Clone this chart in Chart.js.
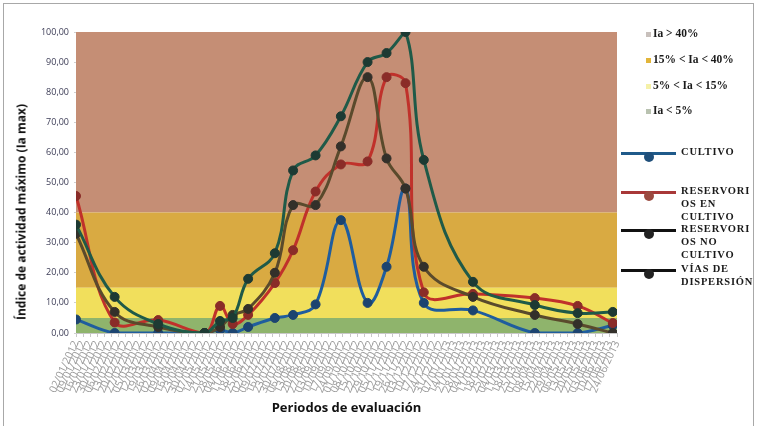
<!DOCTYPE html>
<html><head><meta charset="utf-8">
<script src="https://cdn.jsdelivr.net/npm/chart.js@4"></script>
<style>
html,body{margin:0;padding:0;background:#fff;}
#wrap{position:relative;width:760px;height:426px;overflow:hidden;}
#frame{position:absolute;left:3px;top:3px;width:751px;height:440px;border:1px solid #a8a8a8;box-sizing:border-box;}
#c{position:absolute;left:0;top:0;}
.lg{position:absolute;font-family:"Liberation Serif","DejaVu Serif",serif;font-weight:bold;color:#1a1a1a;white-space:nowrap;}
.band{font-size:11.5px;}
.ser{font-size:10.5px;letter-spacing:0.8px;line-height:12.8px;}
.sq{position:absolute;width:5px;height:5px;}
.ln{position:absolute;height:3px;}
.mk{position:absolute;width:10px;height:10px;border-radius:50%;}
#ytitle{position:absolute;left:21px;top:212px;transform:translate(-50%,-50%) rotate(-90deg);font-family:"Open Sans",sans-serif;font-weight:bold;font-size:12px;color:#111;white-space:nowrap;}
</style></head>
<body><div id="wrap">
<div id="frame"></div>
<canvas id="c" width="760" height="426"></canvas>
<div id="ytitle">Índice de actividad máximo (Ia max)</div>
<div id="legend"></div>
</div>
<script>
// ---- data ----
const dateLabels = ["02/01/2012","09/01/2012","16/01/2012","23/01/2012","30/01/2012","06/02/2012","13/02/2012","20/02/2012","27/02/2012","05/03/2012","12/03/2012","19/03/2012","26/03/2012","02/04/2012","09/04/2012","16/04/2012","23/04/2012","30/04/2012","07/05/2012","14/05/2012","21/05/2012","28/05/2012","04/06/2012","11/06/2012","18/06/2012","25/06/2012","02/07/2012","09/07/2012","16/07/2012","23/07/2012","30/07/2012","06/08/2012","13/08/2012","20/08/2012","27/08/2012","03/09/2012","10/09/2012","17/09/2012","24/09/2012","01/10/2012","08/10/2012","15/10/2012","22/10/2012","29/10/2012","05/11/2012","12/11/2012","19/11/2012","26/11/2012","03/12/2012","10/12/2012","17/12/2012","24/12/2012","31/12/2012","07/01/2013","14/01/2013","21/01/2013","28/01/2013","04/02/2013","11/02/2013","18/02/2013","25/02/2013","04/03/2013","11/03/2013","18/03/2013","25/03/2013","01/04/2013","08/04/2013","15/04/2013","22/04/2013","29/04/2013","06/05/2013","13/05/2013","20/05/2013","27/05/2013","03/06/2013","10/06/2013","17/06/2013","24/06/2013"];
const samplePos = [0, 5.5, 11.7, 18.3, 20.5, 22.3, 24.5, 28.3, 30.9, 34.1, 37.7, 41.5, 44.2, 46.9, 49.5, 56.5, 65.3, 71.4, 76.4];
const cultivo        = [4.5, 0, 0, 0, 1, 0, 2, 5, 6, 9.5, 37.5, 10, 22, 48, 10, 7.5, 0, 0, 2.5];
const resEnCultivo   = [45.5, 3.5, 4.3, 0, 9, 3, 6, 16.6, 27.5, 47, 56, 57, 85, 83, 13.5, 13, 11.6, 9, 3.3];
const resNoCultivo   = [33, 7, 2, 0, 2, 6, 8, 20, 42.5, 42.5, 62, 85, 58, 48, 22, 12, 6, 3, 0];
const viasDispersion = [36, 12, 3, 0, 4, 5, 18, 26.5, 54, 59, 72, 90, 93, 100, 57.5, 17, 9.3, 6.6, 7];
const bandNames  = ["Ia < 5%", "5% < Ia < 15%", "15% < Ia < 40%", "Ia > 40%"];
const bandTops   = [5, 15, 40, 100];
const seriesNames = ["CULTIVO", "RESERVORIOS EN CULTIVO", "RESERVORIOS NO CULTIVO", "VÍAS DE DISPERSIÓN"];
const yTicks = [0,10,20,30,40,50,60,70,80,90,100];

// ---- styles ----
const bandColors = ["#8fb46c", "#f1df5c", "#d9aa42", "#c58e75"];
const bandLegendColors = ["#b9c2b0", "#f5f1a8", "#e2b53a", "#c8c0bc"];
const lineColors = ["#1f5d9e", "#c0312b", "#5a4a2c", "#1f5a48"];
const markColors = ["#1c4470", "#8a2c28", "#33302a", "#1d3a33"];
const legendLineColors = ["#1f5a8a", "#a83838", "#111", "#111"];
const legendMarkColors = ["#1f4f7a", "#9a4a40", "#222", "#222"];

const xMax = dateLabels.length - 1;
const datasets = [];
bandTops.forEach((t, i) => {
  datasets.push({
    label: bandNames[i],
    data: [{x: 0, y: t}, {x: xMax, y: t}],
    borderWidth: 0, pointRadius: 0, backgroundColor: bandColors[i],
    fill: i === 0 ? 'origin' : '-1', order: 10, tension: 0
  });
});
[cultivo, resEnCultivo, resNoCultivo, viasDispersion].forEach((arr, i) => {
  datasets.push({
    label: seriesNames[i],
    data: arr.map((v, k) => ({x: samplePos[k], y: v})),
    borderColor: lineColors[i], borderWidth: 3,
    pointRadius: 4.5, pointBackgroundColor: markColors[i], pointBorderColor: markColors[i], pointBorderWidth: 1,
    fill: false, tension: 0.4, order: 4 - i
  });
});

new Chart(document.getElementById('c'), {
  type: 'line',
  data: {datasets},
  options: {
    responsive: false, animation: false,
    layout: {padding: {left: 0, right: 143, top: 32, bottom: 8}},
    plugins: {legend: {display: false}, tooltip: {enabled: false}},
    scales: {
      x: {
        type: 'linear', min: 0, max: xMax,
        afterFit: s => { s.height = 85; },
        ticks: {stepSize: 1, autoSkip: false, maxRotation: 65, minRotation: 65, color: '#9a9a9a',
                font: {family: 'Open Sans', size: 10.5}, padding: 2,
                callback: v => dateLabels[v]},
        grid: {drawOnChartArea: false, drawTicks: true, tickLength: 4, color: '#c8c8c8'},
        border: {display: true, color: '#c8c8c8'},
        title: {display: true, text: 'Periodos de evaluación', color: '#111',
                font: {family: 'Open Sans', size: 13, weight: 'bold'}, padding: {top: 0, bottom: 2}}
      },
      y: {
        min: 0, max: 100,
        afterFit: s => { s.width = 76; },
        afterBuildTicks: s => { s.ticks = yTicks.map(v => ({value: v})); },
        ticks: {color: '#3b3b55', font: {family: 'Open Sans', size: 9}, padding: 5,
                callback: v => v.toFixed(2).replace('.', ',')},
        grid: {drawOnChartArea: false, drawTicks: true, tickLength: 2, color: '#d0d0d0'},
        border: {display: true, color: '#d0d0d0'}
      }
    }
  }
});

// ---- legend (HTML text) ----
const lg = document.getElementById('legend');
const bandOrder = [3, 2, 1, 0];
const bandY = [34, 60, 86, 111];
bandOrder.forEach((bi, k) => {
  const sq = document.createElement('div'); sq.className = 'sq';
  sq.style.left = '646px'; sq.style.top = (bandY[k] - 2) + 'px'; sq.style.background = bandLegendColors[bi];
  lg.appendChild(sq);
  const t = document.createElement('div'); t.className = 'lg band';
  t.style.left = '653px'; t.style.top = (bandY[k] - 7) + 'px'; t.textContent = bandNames[bi];
  lg.appendChild(t);
});
const serLines = [["CULTIVO"], ["RESERVORI", "OS EN", "CULTIVO"], ["RESERVORI", "OS NO", "CULTIVO"], ["VÍAS DE", "DISPERSIÓN"]];
const serY = [153, 192, 230, 270];
serLines.forEach((lines, i) => {
  const l = document.createElement('div'); l.className = 'ln';
  l.style.left = '621px'; l.style.width = '55px'; l.style.top = (serY[i] - 1) + 'px'; l.style.background = legendLineColors[i];
  lg.appendChild(l);
  const m = document.createElement('div'); m.className = 'mk';
  m.style.left = '644px'; m.style.top = (serY[i] - 1) + 'px'; m.style.background = legendMarkColors[i];
  lg.appendChild(m);
  const t = document.createElement('div'); t.className = 'lg ser';
  t.style.left = '681px'; t.style.top = (serY[i] - 7) + 'px'; t.innerHTML = lines.join('<br>');
  lg.appendChild(t);
});
</script>
</body></html>
